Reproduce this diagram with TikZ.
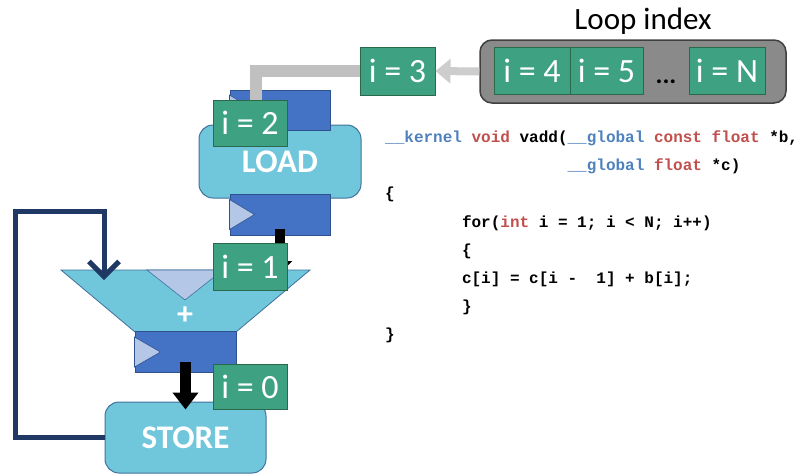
\documentclass[tikz,border=0pt]{standalone}
\usepackage{fontspec}
\setmainfont{Carlito}
\newfontfamily\codefont{Liberation Mono}
\usetikzlibrary{arrows.meta}
\definecolor{gbox}{RGB}{61,161,130}
\definecolor{gboxb}{RGB}{44,104,76}
\definecolor{regc}{RGB}{68,114,196}
\definecolor{regb}{RGB}{47,82,143}
\definecolor{ltri}{RGB}{180,199,231}
\definecolor{cyanc}{RGB}{112,198,219}
\definecolor{cyanb}{RGB}{65,113,156}
\definecolor{navy}{RGB}{31,56,100}
\definecolor{gbar}{RGB}{192,192,192}
\definecolor{garrow}{RGB}{205,205,205}
\definecolor{loopc}{RGB}{138,138,138}
\definecolor{loopb}{RGB}{64,64,64}
\definecolor{cblue}{RGB}{79,129,189}
\definecolor{cred}{RGB}{192,80,77}
\tikzset{
  ibox/.style={draw=gboxb, line width=1pt, fill=gbox, text=white, inner sep=0pt,
    minimum width=74pt, minimum height=47pt, font=\fontsize{34}{40}\selectfont},
  reg/.style={draw=regb, line width=1pt, fill=regc, inner sep=0pt},
  tri/.style={draw=regb, line width=0.6pt, fill=ltri},
  stage/.style={draw=cyanb, line width=1pt, fill=cyanc, rounded corners=14pt, inner sep=0pt,
    text=white, font=\bfseries\fontsize{33}{40}\selectfont},
  code/.style={anchor=base west, inner sep=0pt, font=\codefont\bfseries\fontsize{16}{20}\selectfont},
  blk/.style={draw=black, line width=11pt, -{Triangle[length=17pt,width=25pt]}},
  fb/.style={draw=navy, line width=5pt, -{Straight Barb[length=15pt,width=30pt]}},
}
\begin{document}
\begin{tikzpicture}[x=1pt,y=-1pt]
\useasboundingbox (0,0) rectangle (802,475);
% loop index box
\node[draw=loopb, line width=1.5pt, fill=loopc, rounded corners=12pt, minimum width=306pt, minimum height=63pt] (loopbox) at (633,71.5) {};
\node[font=\fontsize{31}{36}\selectfont, inner sep=0pt] (looplbl) at (643,21) {Loop index};
\node[ibox, minimum width=76pt] (i4) at (532,71) {i = 4};
\node[ibox, minimum width=73pt] (i5) at (606.5,71) {i = 5};
\node[ibox, minimum width=76pt] (iN) at (727,71) {i = N};
\node[font=\bfseries\fontsize{26}{30}\selectfont, inner sep=0pt, anchor=base] (dots) at (666,83) {...};
% LOAD stage
\node[stage, minimum width=162pt, minimum height=73pt] (loadbox) at (280,161.5) {};
\node[reg, minimum width=100pt, minimum height=40pt] (regtop) at (280,110) {};
\draw[tri] ([yshift=15pt]regtop.west) -- ([xshift=25pt]regtop.west) -- ([yshift=-15pt]regtop.west) -- cycle;
\node[text=white, font=\bfseries\fontsize{33}{40}\selectfont, inner sep=0pt] (loadlbl) at (280,162) {LOAD};
\node[reg, minimum width=100pt, minimum height=41pt] (regload) at (280,214.5) {};
\draw[tri] ([yshift=15pt]regload.west) -- ([xshift=25pt]regload.west) -- ([yshift=-15pt]regload.west) -- cycle;
% adder
\draw[draw=cyanb, line width=0.8pt, fill=cyanc] (61,270) -- (310,270) -- (236,332) -- (135,332) -- cycle;
\draw[tri, draw=cyanb] (147,270) -- (223,270) -- (185,300) -- cycle;
\node[text=white, font=\bfseries\fontsize{32}{36}\selectfont, inner sep=0pt] (plus) at (185,316) {+};
\node[reg, minimum width=101pt, minimum height=41pt] (regadd) at (185.5,352) {};
\draw[tri] ([yshift=15pt]regadd.west) -- ([xshift=26pt]regadd.west) -- ([yshift=-15pt]regadd.west) -- cycle;
% STORE stage
\node[stage, minimum width=161pt, minimum height=71pt] (storebox) at (185.5,437.5) {STORE};
% connectors
\coordinate (gbend) at (256,100);
\coordinate (addtop) at (280,273);
\draw[blk, line width=10pt, -{Triangle[length=12pt,width=24pt]}] ([yshift=7pt]regload.south) -- (addtop);
\draw[blk] ([yshift=-10pt]regadd.center) -- ([yshift=-8pt]storebox.north);
\coordinate (fbc) at (15,211);
\coordinate (addin) at (104,280);
\draw[fb] (storebox.west) -| (fbc) -| (addin);
% green boxes
\node[ibox, minimum width=75pt, minimum height=48pt] (i3) at (397.5,71) {i = 3};
\draw[gbar, line width=12pt] (i3.west) -| (gbend);
\draw[garrow, line width=8pt, -{Triangle[length=15pt,width=24pt]}] (loopbox.west) -- (i3.east);
\node[ibox, minimum height=46pt] (i2) at (250,123) {i = 2};
\node[ibox] (i1) at (250,266.5) {i = 1};
\node[ibox, minimum height=45pt] (i0) at (250,386.5) {i = 0};
% code
\node[code] (c1) at (385,142) {\textcolor{cblue}{\_\_kernel} \textcolor{cred}{void} vadd(\textcolor{cblue}{\_\_global} \textcolor{cred}{const} \textcolor{cred}{float} *b,};
\node[code] (c2) at (567.4,170) {\textcolor{cblue}{\_\_global} \textcolor{cred}{float} *c)};
\node[code] (c3) at (385,198) {\{};
\node[code] (c4) at (461.8,227) {for(\textcolor{cred}{int} i = 1; i < N; i++)};
\node[code] (c5) at (461.8,255) {\{};
\node[code] (c6) at (461.8,283) {c[i] = c[i -~~1] + b[i];};
\node[code] (c7) at (461.8,311) {\}};
\node[code] (c8) at (385,339) {\}};
\end{tikzpicture}
\end{document}
